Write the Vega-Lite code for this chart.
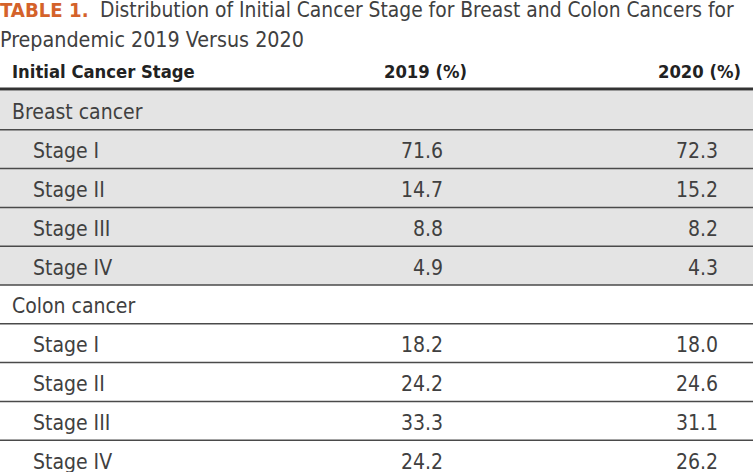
{
  "$schema": "https://vega.github.io/schema/vega-lite/v6.json",
  "width": 753,
  "height": 472,
  "padding": 0,
  "autosize": {"type": "none"},
  "background": "#ffffff",
  "config": {"view": {"stroke": null}, "text": {"font": "'DejaVu Sans Condensed', 'Roboto Condensed', Roboto, sans-serif"}},
  "datasets": {
    "rows": [
      {"r": 0, "label": "Breast cancer", "level": "group", "cancer": "Breast", "y2019": null, "y2020": null},
      {"r": 1, "label": "Stage I", "level": "stage", "cancer": "Breast", "y2019": 71.6, "y2020": 72.3},
      {"r": 2, "label": "Stage II", "level": "stage", "cancer": "Breast", "y2019": 14.7, "y2020": 15.2},
      {"r": 3, "label": "Stage III", "level": "stage", "cancer": "Breast", "y2019": 8.8, "y2020": 8.2},
      {"r": 4, "label": "Stage IV", "level": "stage", "cancer": "Breast", "y2019": 4.9, "y2020": 4.3},
      {"r": 5, "label": "Colon cancer", "level": "group", "cancer": "Colon", "y2019": null, "y2020": null},
      {"r": 6, "label": "Stage I", "level": "stage", "cancer": "Colon", "y2019": 18.2, "y2020": 18.0},
      {"r": 7, "label": "Stage II", "level": "stage", "cancer": "Colon", "y2019": 24.2, "y2020": 24.6},
      {"r": 8, "label": "Stage III", "level": "stage", "cancer": "Colon", "y2019": 33.3, "y2020": 31.1},
      {"r": 9, "label": "Stage IV", "level": "stage", "cancer": "Colon", "y2019": 24.2, "y2020": 26.2}
    ]
  },
  "layer": [
    {
      "data": {"name": "rows"},
      "mark": {"type": "rect"},
      "encoding": {
        "y": {"field": "r", "type": "ordinal", "axis": null, "scale": {"domain": [0,1,2,3,4,5,6,7,8,9], "range": [91, 479], "paddingInner": 0, "paddingOuter": 0}},
        "x": {"value": 0},
        "x2": {"value": 753},
        "color": {"field": "cancer", "type": "nominal", "legend": null, "scale": {"domain": ["Breast", "Colon"], "range": ["#e4e4e4", "#ffffff"]}}
      }
    },
    {
      "data": {"name": "rows"},
      "transform": [{"filter": "datum.r > 0"}],
      "mark": {"type": "rule", "color": "#4a4a4a", "strokeWidth": 1.5},
      "encoding": {
        "y": {"field": "r", "type": "ordinal", "bandPosition": 0}
      }
    },
    {
      "data": {"name": "rows"},
      "transform": [{"filter": "datum.r == 0"}],
      "mark": {"type": "rule", "color": "#333333", "strokeWidth": 3},
      "encoding": {
        "y": {"field": "r", "type": "ordinal", "bandPosition": 0},
        "yOffset": {"value": -2}
      }
    },
    {
      "data": {"name": "rows"},
      "transform": [{"filter": "datum.level == 'group'"}],
      "mark": {"type": "text", "align": "left", "baseline": "alphabetic", "dy": 9, "fontSize": 21, "color": "#404040"},
      "encoding": {
        "y": {"field": "r", "type": "ordinal"},
        "x": {"value": 12},
        "text": {"field": "label"}
      }
    },
    {
      "data": {"name": "rows"},
      "transform": [{"filter": "datum.level == 'stage'"}],
      "mark": {"type": "text", "align": "left", "baseline": "alphabetic", "dy": 9, "fontSize": 21, "color": "#404040"},
      "encoding": {
        "y": {"field": "r", "type": "ordinal"},
        "x": {"value": 33},
        "text": {"field": "label"}
      }
    },
    {
      "data": {"name": "rows"},
      "transform": [{"filter": "datum.y2019 != null"}],
      "mark": {"type": "text", "align": "right", "baseline": "alphabetic", "dy": 9, "fontSize": 21, "color": "#404040"},
      "encoding": {
        "y": {"field": "r", "type": "ordinal"},
        "x": {"value": 443},
        "text": {"field": "y2019", "type": "quantitative", "format": ".1f"}
      }
    },
    {
      "data": {"name": "rows"},
      "transform": [{"filter": "datum.y2020 != null"}],
      "mark": {"type": "text", "align": "right", "baseline": "alphabetic", "dy": 9, "fontSize": 21, "color": "#404040"},
      "encoding": {
        "y": {"field": "r", "type": "ordinal"},
        "x": {"value": 718},
        "text": {"field": "y2020", "type": "quantitative", "format": ".1f"}
      }
    },
    {
      "data": {"values": [{"t": "TABLE 1."}]},
      "mark": {"type": "text", "align": "left", "baseline": "alphabetic", "fontSize": 20.2, "fontWeight": "bold", "color": "#d4622a"},
      "encoding": {"x": {"value": 0}, "y": {"value": 17}, "text": {"field": "t"}}
    },
    {
      "data": {"values": [{"t": "Distribution of Initial Cancer Stage for Breast and Colon Cancers for"}]},
      "mark": {"type": "text", "align": "left", "baseline": "alphabetic", "fontSize": 20.8, "color": "#404040"},
      "encoding": {"x": {"value": 100}, "y": {"value": 17}, "text": {"field": "t"}}
    },
    {
      "data": {"values": [{"t": "Prepandemic 2019 Versus 2020"}]},
      "mark": {"type": "text", "align": "left", "baseline": "alphabetic", "fontSize": 21.3, "color": "#404040"},
      "encoding": {"x": {"value": 0}, "y": {"value": 47}, "text": {"field": "t"}}
    },
    {
      "data": {"values": [{"t": "Initial Cancer Stage"}]},
      "mark": {"type": "text", "align": "left", "baseline": "alphabetic", "fontSize": 18.3, "fontWeight": "bold", "color": "#222222"},
      "encoding": {"x": {"value": 12}, "y": {"value": 77.5}, "text": {"field": "t"}}
    },
    {
      "data": {"values": [{"t": "2019 (%)"}]},
      "mark": {"type": "text", "align": "right", "baseline": "alphabetic", "fontSize": 18.3, "fontWeight": "bold", "color": "#222222"},
      "encoding": {"x": {"value": 467}, "y": {"value": 77.5}, "text": {"field": "t"}}
    },
    {
      "data": {"values": [{"t": "2020 (%)"}]},
      "mark": {"type": "text", "align": "right", "baseline": "alphabetic", "fontSize": 18.3, "fontWeight": "bold", "color": "#222222"},
      "encoding": {"x": {"value": 741}, "y": {"value": 77.5}, "text": {"field": "t"}}
    }
  ]
}
